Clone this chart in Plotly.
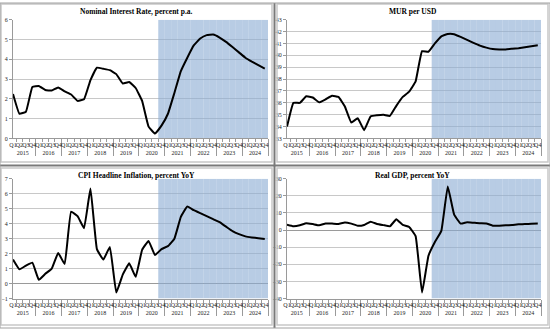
import plotly.graph_objects as go

# ---------------- data ----------------
years = [str(y) for y in range(2015, 2025) for _ in range(4)]
quarters = ["Q1", "Q2", "Q3", "Q4"] * 10
forecast_start = 23  # index of first forecast quarter (2020Q4)

interest_rate = [2.25, 1.25, 1.35, 2.60,
                 2.65, 2.45, 2.42, 2.58,
                 2.38, 2.22, 1.90, 1.98,
                 2.95, 3.58, 3.52, 3.45,
                 3.25, 2.78, 2.85, 2.55,
                 1.90, 0.60, 0.25, 0.65,
                 1.25, 2.30, 3.40, 4.08,
                 4.70, 5.05, 5.22, 5.25,
                 5.10, 4.88, 4.62, 4.35,
                 4.08, 3.88, 3.70, 3.53]

mur_usd = [34.00, 36.00, 36.00, 36.55,
           36.45, 36.05, 36.30, 36.60,
           36.50, 35.70, 34.35, 34.70,
           33.70, 34.85, 34.95, 35.00,
           34.90, 35.75, 36.50, 36.95,
           37.80, 40.35, 40.30, 41.00,
           41.60, 41.80, 41.78, 41.55,
           41.30, 41.05, 40.82, 40.65,
           40.53, 40.50, 40.50, 40.55,
           40.60, 40.68, 40.76, 40.85]

cpi_inflation = [1.60, 0.95, 1.20, 1.40,
                 0.25, 0.65, 1.00, 2.05,
                 1.30, 4.80, 4.50, 3.70,
                 6.35, 2.30, 1.60, 2.45,
                 -0.60, 0.60, 1.35, 0.45,
                 2.25, 2.85, 1.90, 2.30,
                 2.50, 3.00, 4.45, 5.15,
                 4.90, 4.70, 4.50, 4.30,
                 4.10, 3.80, 3.50, 3.30,
                 3.15, 3.08, 3.03, 2.98]

real_gdp = [3.2, 2.3, 2.8, 4.0,
            3.5, 2.8, 3.8, 3.8,
            3.6, 4.5, 3.8, 2.5,
            3.0, 4.9, 3.6, 2.9,
            2.2, 6.3, 3.0, 1.8,
            -3.5, -36.5, -15.0, -7.0,
            -0.5, 25.5, 9.0, 3.8,
            4.6, 4.3, 4.0, 3.9,
            2.6, 2.6, 2.8, 3.0,
            3.4, 3.5, 3.7, 3.8]

titles = ["Nominal Interest Rate, percent p.a.", "MUR per USD",
          "CPI Headline Inflation, percent YoY", "Real GDP, percent YoY"]
series = [interest_rate, mur_usd, cpi_inflation, real_gdp]
y_ranges = [(0, 6), (33, 43), (-1, 7), (-40, 30)]
y_dticks = [1, 1, 1, 10]

# ---------------- layout geometry ----------------
W, H = 550, 331
SERIF = "Liberation Serif, Times New Roman, serif"
x_domains = [(13, 268), (287, 541), (13, 268), (287, 541)]
y_domains = [(17, 138), (17, 138), (179, 301), (179, 301)]
panels = [(1, 1, 272, 162), (277, 1, 548, 162), (1, 168, 272, 328), (277, 168, 548, 328)]

fig = go.Figure()
layout = dict(width=W, height=H, margin=dict(l=0, r=0, t=0, b=0),
              paper_bgcolor="white", plot_bgcolor="white",
              showlegend=False, annotations=[], shapes=[])

for i in range(4):
    n = "" if i == 0 else str(i + 1)
    xa, ya = "x" + n, "y" + n
    ymin, ymax = y_ranges[i]
    fig.add_trace(go.Scatter(
        x=[years, quarters], y=series[i], mode="lines",
        line=dict(color="black", width=2, shape="spline", smoothing=0.3),
        xaxis=xa, yaxis=ya))
    fc_x = [years[forecast_start:], quarters[forecast_start:]]
    fig.add_trace(go.Bar(
        x=fc_x, y=[ymax - ymin] * len(fc_x[0]), base=ymin, width=1,
        marker=dict(color="rgba(140,172,212,0.62)", line=dict(width=0)),
        xaxis=xa, yaxis=ya, hoverinfo="skip"))

    x0, x1 = x_domains[i]
    y0, y1 = y_domains[i]
    layout["xaxis" + n] = dict(
        domain=[x0 / W, x1 / W], anchor=ya, type="multicategory",
        tickangle=0, dtick=1, tickmode="linear",
        tickfont=dict(family=SERIF, size=6, color="#222"),
        showline=True, linecolor="#9a9a9a", linewidth=1,
        showgrid=False, ticks="outside", ticklen=3, tickcolor="#9a9a9a",
        dividercolor="#9a9a9a", dividerwidth=1, fixedrange=True)
    layout["yaxis" + n] = dict(
        domain=[1 - y1 / H, 1 - y0 / H], anchor=xa, range=[ymin, ymax],
        dtick=y_dticks[i], tick0=ymin,
        tickfont=dict(family=SERIF, size=6, color="#222"),
        showline=True, linecolor="#9a9a9a", linewidth=1,
        ticks="outside", ticklen=3, tickcolor="#9a9a9a",
        showgrid=True, gridcolor="#c8c8c8", gridwidth=1,
        zeroline=(ymin < 0), zerolinecolor="#9a9a9a", zerolinewidth=1,
        fixedrange=True)

    px0, py0, px1, py1 = panels[i]
    layout["annotations"].append(dict(
        text="<b>" + titles[i] + "</b>", x=(px0 + px1) / 2 / W,
        y=1 - (py0 + 8) / H, xref="paper", yref="paper",
        showarrow=False, font=dict(family=SERIF, size=7.5, color="black"),
        xanchor="center", yanchor="middle"))
    layout["shapes"].append(dict(
        type="rect", xref="paper", yref="paper",
        x0=px0 / W, x1=px1 / W, y0=1 - py1 / H, y1=1 - py0 / H,
        line=dict(color="#c8c8c8", width=1.5)))

# separators and outer frame
layout["shapes"] += [
    dict(type="line", xref="paper", yref="paper", x0=274.5 / W, x1=274.5 / W,
         y0=0, y1=1, line=dict(color="#7a7a7a", width=2)),
    dict(type="line", xref="paper", yref="paper", x0=0, x1=1,
         y0=1 - 165.5 / H, y1=1 - 165.5 / H, line=dict(color="#7a7a7a", width=2)),
    dict(type="rect", xref="paper", yref="paper", x0=0, x1=1, y0=0, y1=1,
         line=dict(color="#a0a0a0", width=1)),
]

fig.update_layout(**layout)
fig.write_html("out.html", config={"displayModeBar": False},
               post_script="document.body.style.margin='0';document.body.style.overflow='hidden';")
